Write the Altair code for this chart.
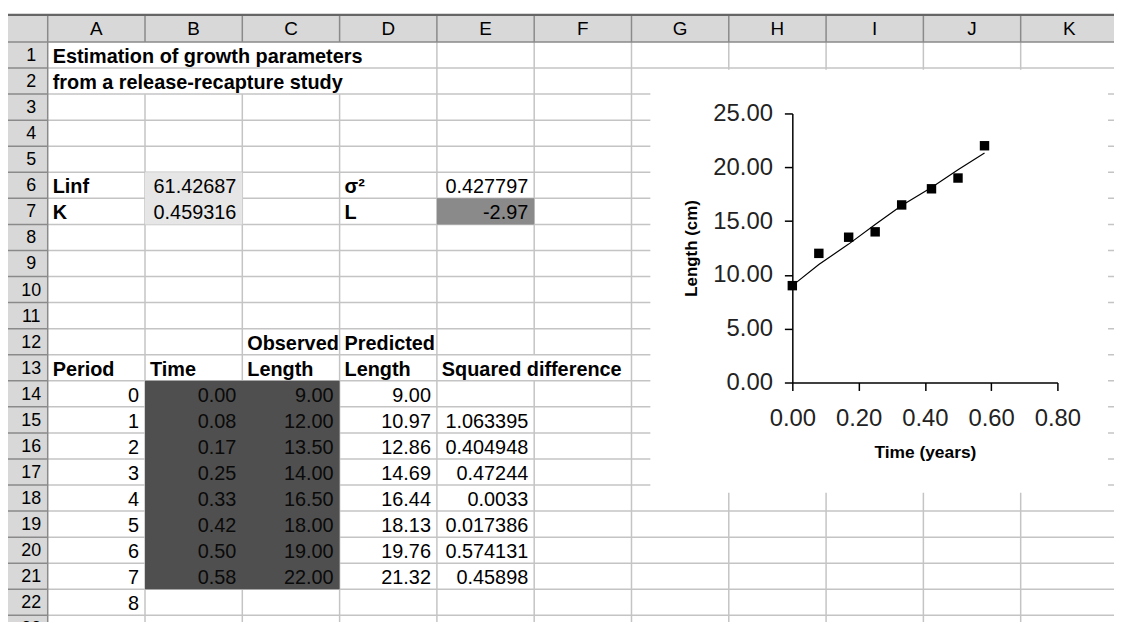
import altair as alt
import pandas as pd

# ---------------- data ----------------
col_letters = list("ABCDEFGHIJK")
row_numbers = list(range(1, 24))
title_lines = ["Estimation of growth parameters", "from a release-recapture study"]
param_labels = ["Linf", "K"]
param_values = ["61.42687", "0.459316"]
stat_labels = ["σ²", "L"]
stat_values = ["0.427797", "-2.97"]
header_top = ["Observed", "Predicted"]
header_cols = ["Period", "Time", "Length", "Length", "Squared difference"]
periods = list(range(0, 10))
times = [0.00, 0.08, 0.17, 0.25, 0.33, 0.42, 0.50, 0.58]
observed = [9.00, 12.00, 13.50, 14.00, 16.50, 18.00, 19.00, 22.00]
predicted = [9.00, 10.97, 12.86, 14.69, 16.44, 18.13, 19.76, 21.32]
sq_diff = ["", "1.063395", "0.404948", "0.47244", "0.0033", "0.017386", "0.574131", "0.45898"]
x_ticks = [0.0, 0.2, 0.4, 0.6, 0.8]
y_ticks = [0, 5, 10, 15, 20, 25]

# ---------------- layout (sheet units: columns / rows) ----------------
W, H = 1114, 614
COLW, ROWH = 98.0, 26.25
X0, Y0 = 40.0, 32.0
HDR_U = (4.7 - Y0) / ROWH
LEFT_C = -X0 / COLW
RIGHT_C = (W - X0) / COLW
BOT_U = (H - Y0) / ROWH + 1
FONT = "Liberation Sans"

xs = alt.Scale(domain=[-X0 / COLW, (W - X0) / COLW], range=[0, W], zero=False, nice=False)
ys = alt.Scale(domain=[-Y0 / ROWH, (H - Y0) / ROWH], range=[0, H], zero=False, nice=False)


def X(f):
    return alt.X(f, type="quantitative", scale=xs, axis=None)


def Y(f):
    return alt.Y(f, type="quantitative", scale=ys, axis=None)


# gridlines
hidden = {1: [(0, 2)], 2: [(0, 2)], 3: [(0, 2)], 5: [(12, 13)]}
vseg = []
for c in range(1, 12):
    start = 0.0
    for a, b in hidden.get(c, []):
        if a > start:
            vseg.append({"c": c, "u1": start, "u2": a})
        start = b
    vseg.append({"c": c, "u1": start, "u2": BOT_U})
hseg = [{"u": u, "c1": 0, "c2": RIGHT_C} for u in range(1, 24)]

fills = pd.DataFrame([
    {"c1": 1, "c2": 2, "u1": 5, "u2": 7, "col": "#e6e6e6"},
    {"c1": 4, "c2": 5, "u1": 6, "u2": 7, "col": "#8a8a8a"},
    {"c1": 1, "c2": 3, "u1": 13, "u2": 21, "col": "#4f4f4f"},
])

bands = pd.DataFrame([
    {"c1": LEFT_C, "c2": RIGHT_C, "u1": HDR_U, "u2": 0},
    {"c1": LEFT_C, "c2": 0, "u1": 0, "u2": BOT_U},
])

hdr_v = pd.DataFrame([{"c": c, "u1": HDR_U, "u2": 0} for c in range(0, 12)]
                     + [{"c": 0, "u1": 0, "u2": BOT_U}])
hdr_h = pd.DataFrame([{"u": u, "c1": LEFT_C, "c2": 0} for u in range(1, 24)]
                     + [{"u": 0, "c1": LEFT_C, "c2": RIGHT_C}])
hdr_top = pd.DataFrame([{"u": HDR_U, "c1": LEFT_C, "c2": RIGHT_C}])

letters = pd.DataFrame({"c": [i + 0.5 for i in range(len(col_letters))], "u": HDR_U / 2, "t": col_letters})
rownums = pd.DataFrame({"c": -0.17, "u": [r - 0.5 for r in row_numbers], "t": [str(r) for r in row_numbers]})

bold_rows = []
for i, s in enumerate(title_lines):
    bold_rows.append({"c": 0, "u": 1 + i, "t": s})
for i, s in enumerate(param_labels):
    bold_rows.append({"c": 0, "u": 6 + i, "t": s})
for i, s in enumerate(stat_labels):
    bold_rows.append({"c": 3, "u": 6 + i, "t": s})
for i, s in enumerate(header_top):
    bold_rows.append({"c": 2 + i, "u": 12, "t": s})
for i, s in enumerate(header_cols):
    bold_rows.append({"c": i, "u": 13, "t": s})
bold_df = pd.DataFrame(bold_rows)

reg_rows = []
for i, s in enumerate(param_values):
    reg_rows.append({"c": 2, "u": 6 + i, "t": s, "col": "black"})
for i, s in enumerate(stat_values):
    reg_rows.append({"c": 5, "u": 6 + i, "t": s, "col": "black"})
for i, p in enumerate(periods):
    reg_rows.append({"c": 1, "u": 14 + i, "t": str(p), "col": "black"})
for i, t in enumerate(times):
    reg_rows.append({"c": 2, "u": 14 + i, "t": f"{t:.2f}", "col": "#0a0a0a"})
for i, o in enumerate(observed):
    reg_rows.append({"c": 3, "u": 14 + i, "t": f"{o:.2f}", "col": "#0a0a0a"})
for i, p in enumerate(predicted):
    reg_rows.append({"c": 4, "u": 14 + i, "t": f"{p:.2f}", "col": "black"})
for i, s in enumerate(sq_diff):
    if s:
        reg_rows.append({"c": 5, "u": 14 + i, "t": s, "col": "black"})
reg_df = pd.DataFrame(reg_rows)

frame = pd.DataFrame([{"c1": (647 - X0) / COLW, "c2": (1108 - X0) / COLW,
                       "u1": (60 - Y0) / ROWH, "u2": (486 - Y0) / ROWH}])

# ---------------- sheet layers ----------------
grid_v = alt.Chart(pd.DataFrame(vseg)).mark_rule(color="#c4c4c4", strokeWidth=1.5).encode(
    x=X("c"), y=Y("u1"), y2="u2")
grid_h = alt.Chart(pd.DataFrame(hseg)).mark_rule(color="#c4c4c4", strokeWidth=1.5).encode(
    x=X("c1"), x2="c2", y=Y("u"))
fill_l = alt.Chart(fills).mark_rect().encode(
    x=X("c1"), x2="c2", y=Y("u1"), y2="u2", color=alt.Color("col:N", scale=None))
band_l = alt.Chart(bands).mark_rect(color="#d8d8d8").encode(
    x=X("c1"), x2="c2", y=Y("u1"), y2="u2")
hv_l = alt.Chart(hdr_v).mark_rule(color="#8a8a8a", strokeWidth=1.5).encode(
    x=X("c"), y=Y("u1"), y2="u2")
hh_l = alt.Chart(hdr_h).mark_rule(color="#8a8a8a", strokeWidth=1.5).encode(
    x=X("c1"), x2="c2", y=Y("u"))
ht_l = alt.Chart(hdr_top).mark_rule(color="#666666", strokeWidth=2.5).encode(
    x=X("c1"), x2="c2", y=Y("u"))
let_l = alt.Chart(letters).mark_text(font=FONT, fontSize=19, color="black",
                                     align="center", baseline="middle", dy=1).encode(
    x=X("c"), y=Y("u"), text="t:N")
num_l = alt.Chart(rownums).mark_text(font=FONT, fontSize=18, color="black",
                                     align="center", baseline="middle", dy=1).encode(
    x=X("c"), y=Y("u"), text="t:N")
bold_l = alt.Chart(bold_df).mark_text(font=FONT, fontSize=20, fontWeight="bold", color="black",
                                      align="left", baseline="alphabetic", dx=5, dy=-5).encode(
    x=X("c"), y=Y("u"), text="t:N")
reg_l = alt.Chart(reg_df).mark_text(font=FONT, fontSize=20, align="right",
                                    baseline="alphabetic", dx=-6, dy=-5).encode(
    x=X("c"), y=Y("u"), text="t:N", color=alt.Color("col:N", scale=None))
frame_l = alt.Chart(frame).mark_rect(color="white").encode(
    x=X("c1"), x2="c2", y=Y("u1"), y2="u2")

sheet = alt.layer(grid_v, grid_h, fill_l, band_l, hv_l, hh_l, ht_l, let_l, num_l,
                  bold_l, reg_l, frame_l)

# ---------------- embedded chart ----------------
PX = [790, 1057]
PY = [375, 104]
cdf = pd.DataFrame({"t": times, "obs": observed, "pred": predicted})
tx = alt.Scale(domain=[0, 0.8], range=PX, zero=False, nice=False)
ty = alt.Scale(domain=[0, 25], range=PY, zero=False, nice=False)
ax_x = alt.Axis(orient="bottom", offset=PY[0] - H, values=x_ticks, format=".2f",
                title="Time (years)", labelFont=FONT, labelFontSize=24, labelColor="#222222",
                labelPadding=16, tickSize=8, tickColor="black", tickWidth=1.5,
                domainColor="black", domainWidth=1.5, grid=False, labelFlush=False,
                labelOverlap=False, titleFont=FONT, titleFontSize=17.5, titleFontWeight="bold",
                titleColor="black", titlePadding=14, zindex=1)
ax_y = alt.Axis(orient="left", offset=-PX[0], values=y_ticks, format=".2f",
                title="Length (cm)", labelFont=FONT, labelFontSize=24, labelColor="#222222",
                labelPadding=12, tickSize=8, tickColor="black", tickWidth=1.5,
                domainColor="black", domainWidth=1.5, grid=False, labelFlush=False,
                labelOverlap=False, titleFont=FONT, titleFontSize=17, titleFontWeight="bold",
                titleColor="black", titlePadding=12, zindex=1)

line_l = alt.Chart(cdf).mark_line(color="black", strokeWidth=1.2).encode(
    x=alt.X("t:Q", scale=tx, axis=ax_x), y=alt.Y("pred:Q", scale=ty, axis=ax_y))
pts_l = alt.Chart(cdf).mark_square(color="black", size=90, opacity=1).encode(
    x=alt.X("t:Q", scale=tx, axis=ax_x), y=alt.Y("obs:Q", scale=ty, axis=ax_y))
plot = alt.layer(line_l, pts_l)

chart = alt.layer(sheet, plot).resolve_scale(x="independent", y="independent").properties(
    width=W, height=H, padding=0, autosize=alt.AutoSizeParams(type="none"),
    background="white"
).configure_view(stroke=None)

chart.save("out.html", embed_options={"renderer": "svg", "actions": False})
